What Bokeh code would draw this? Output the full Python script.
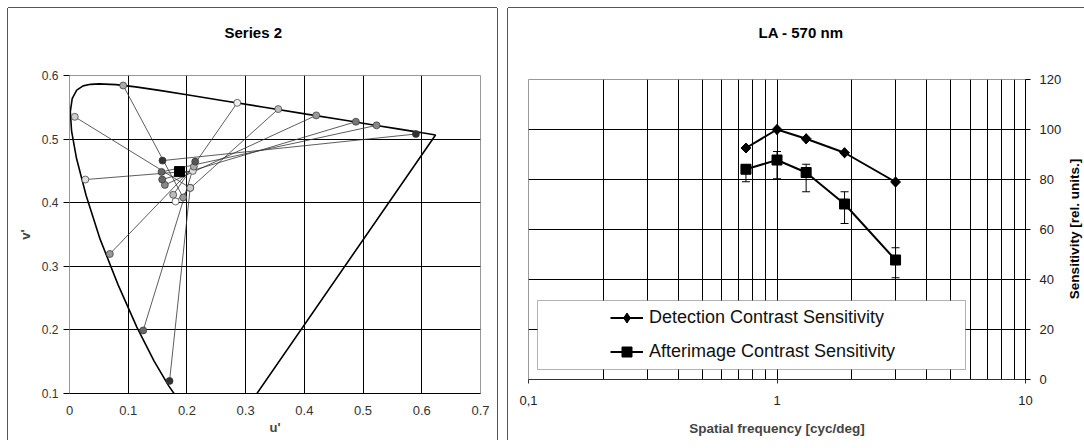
import math
from bokeh.plotting import figure
from bokeh.layouts import row
from bokeh.models import (FixedTicker, Title, Legend, LegendItem, BoxAnnotation,
                          Whisker, TeeHead, ColumnDataSource)
from bokeh.embed import file_html
from bokeh.resources import INLINE

FONT = "Liberation Sans"

# ---------------- Left chart: CIE 1976 u'v' diagram ----------------
locus_u = [0.2568, 0.2557, 0.2522, 0.2347, 0.2161, 0.1877, 0.1690, 0.1441, 0.1147,
           0.0828, 0.0521, 0.0282, 0.0119, 0.0035, 0.0014, 0.0046, 0.0123, 0.0231,
           0.0360, 0.0501, 0.0792, 0.1127, 0.1531, 0.2026, 0.2623, 0.3315, 0.4035,
           0.4692, 0.5203, 0.5565, 0.5830, 0.6005, 0.6109, 0.6234, 0.2568]
locus_v = [0.0166, 0.0159, 0.0169, 0.0350, 0.0549, 0.0871, 0.1120, 0.1510, 0.2044,
           0.2708, 0.3427, 0.4117, 0.4698, 0.5131, 0.5432, 0.5638, 0.5770, 0.5837,
           0.5861, 0.5868, 0.5856, 0.5821, 0.5766, 0.5694, 0.5604, 0.5501, 0.5393,
           0.5296, 0.5219, 0.5165, 0.5125, 0.5099, 0.5084, 0.5065, 0.0166]

spec_u = [0.0914, 0.009, 0.027, 0.0687, 0.1255, 0.1704, 0.2857, 0.3555, 0.4202, 0.4877, 0.523, 0.590]
spec_v = [0.5843, 0.535, 0.4364, 0.3194, 0.1992, 0.1198, 0.557, 0.5472, 0.5373, 0.5273, 0.5216, 0.508]
spec_fill = ["#aaaaaa", "#cccccc", "#e0e0e0", "#999999", "#666666", "#333333",
             "#eeeeee", "#bbbbbb", "#999999", "#777777", "#888888", "#333333"]

match_u = [0.1936, 0.2056, 0.2101, 0.2118, 0.2141, 0.2056, 0.1766, 0.1806, 0.1624, 0.1579, 0.1567, 0.1584]
match_v = [0.4082, 0.4233, 0.4500, 0.4568, 0.4646, 0.4233, 0.4124, 0.4019, 0.4280, 0.4364, 0.4484, 0.4662]
match_fill = ["#999999", "#cccccc", "#dddddd", "#aaaaaa", "#555555", "#cccccc",
              "#bbbbbb", "#ffffff", "#888888", "#666666", "#666666", "#333333"]

white_u = [0.1874]
white_v = [0.4489]

u_ticks = [0, 0.1, 0.2, 0.3, 0.4, 0.5, 0.6, 0.7]
v_ticks = [0.1, 0.2, 0.3, 0.4, 0.5, 0.6]

# ---------------- Right chart: LA - 570 nm ----------------
freq = [0.75, 1.0, 1.31, 1.87, 3.0]
detection = [92.6, 100.0, 96.3, 90.7, 79.0]
afterimage = [84.1, 87.8, 82.8, 70.2, 47.8]
after_upper = [85.8, 91.2, 86.1, 75.1, 52.7]
after_lower = [79.1, 80.3, 75.1, 62.4, 40.7]

x_major = [0.1, 1, 10]
x_labels = {0.1: "0,1", 1: "1", 10: "10"}
x_grid = [0.2, 0.3, 0.4, 0.5, 0.6, 0.7, 0.8, 0.9, 1, 2, 3, 4, 5, 6, 7, 8, 9]
y_ticks = [0, 20, 40, 60, 80, 100, 120]


def add_title(p, text, offset, gap):
    spacer = Title(text=" ", text_font_size="1px", standoff=gap)
    p.add_layout(spacer, "above")
    t = Title(text=text, align="left", offset=offset, standoff=30, vertical_align="top",
              text_font=FONT, text_font_size="15px", text_font_style="bold", text_color="black")
    p.add_layout(t, "above")


# ================= Left figure =================
p1 = figure(width=489, height=432, x_range=(0, 0.7), y_range=(0.1, 0.6),
            output_backend="svg", toolbar_location=None,
            min_border_left=61, min_border_right=17, min_border_top=66, min_border_bottom=47)
p1.frame_align = False
p1.outline_line_color = "#999999"
p1.styles = {"box-shadow": "-1px 0 0 #555555, 1px 0 0 #555555, 0 -1px 0 #555555"}

p1.xaxis.ticker = FixedTicker(ticks=u_ticks, minor_ticks=[])
p1.yaxis.ticker = FixedTicker(ticks=v_ticks, minor_ticks=[])
p1.xgrid.ticker = FixedTicker(ticks=u_ticks)
p1.ygrid.ticker = FixedTicker(ticks=v_ticks)
for g in (p1.xgrid, p1.ygrid):
    g.grid_line_color = "black"
    g.grid_line_width = 1

xa = p1.xaxis[0]
xa.major_tick_out = 0
xa.major_tick_in = 0
xa.minor_tick_out = 0
xa.axis_line_color = "black"
xa.major_label_text_font = FONT
xa.major_label_text_font_size = "13px"
xa.major_label_text_color = "#333333"
xa.major_label_standoff = 12
xa.axis_label = "u'"
xa.axis_label_text_font = FONT
xa.axis_label_text_font_size = "13px"
xa.axis_label_text_font_style = "bold"
xa.axis_label_standoff = 2

ya = p1.yaxis[0]
ya.major_tick_out = 6
ya.major_tick_in = 0
ya.minor_tick_out = 0
ya.major_tick_line_color = "black"
ya.axis_line_color = "#999999"
ya.major_label_text_font = FONT
ya.major_label_text_font_size = "12px"
ya.major_label_text_color = "#333333"
ya.major_label_standoff = 5
ya.axis_label = "v'"
ya.axis_label_text_font = FONT
ya.axis_label_text_font_size = "13px"
ya.axis_label_text_font_style = "bold"
ya.axis_label_standoff = 6

p1.segment(x0=spec_u, y0=spec_v, x1=match_u, y1=match_v, line_color="#333333", line_width=0.8)
p1.line(locus_u, locus_v, line_color="black", line_width=1.6)
p1.scatter(spec_u, spec_v, marker="circle", size=7, fill_color=spec_fill,
           line_color="#333333", line_width=0.7)
p1.scatter(match_u, match_v, marker="circle", size=7, fill_color=match_fill,
           line_color="#333333", line_width=0.7)
p1.scatter(white_u, white_v, marker="square", size=10, fill_color="black", line_color="black")

add_title(p1, "Series 2", 155, 15)

# ================= Right figure =================
p2 = figure(width=556, height=432, x_axis_type="log", x_range=(0.1, 10), y_range=(0, 120),
            y_axis_location="right", output_backend="svg", toolbar_location=None,
            min_border_left=20, min_border_right=37, min_border_top=70, min_border_bottom=61)
p2.frame_align = False
p2.outline_line_color = "#999999"
p2.styles = {"box-shadow": "-1px 0 0 #555555, 0 -1px 0 #555555"}

p2.xaxis.ticker = FixedTicker(ticks=x_major, minor_ticks=[])
p2.yaxis.ticker = FixedTicker(ticks=y_ticks, minor_ticks=[])
p2.xgrid.ticker = FixedTicker(ticks=x_grid)
p2.ygrid.ticker = FixedTicker(ticks=y_ticks)
for g in (p2.xgrid, p2.ygrid):
    g.grid_line_color = "black"
    g.grid_line_width = 1

xb = p2.xaxis[0]
xb.major_label_overrides = x_labels
xb.major_tick_out = 4
xb.major_tick_in = 0
xb.minor_tick_out = 0
xb.axis_line_color = "#333333"
xb.major_tick_line_color = "#333333"
xb.major_label_text_font = FONT
xb.major_label_text_font_size = "13px"
xb.major_label_text_color = "#222222"
xb.major_label_standoff = 12
xb.axis_label = "Spatial frequency [cyc/deg]"
xb.axis_label_text_font = FONT
xb.axis_label_text_font_size = "13.5px"
xb.axis_label_text_font_style = "bold"
xb.axis_label_standoff = 13

yb = p2.yaxis[0]
yb.major_tick_out = 5
yb.major_tick_in = 0
yb.minor_tick_out = 0
yb.axis_line_color = "black"
yb.major_tick_line_color = "black"
yb.major_label_text_font = FONT
yb.major_label_text_font_size = "13px"
yb.major_label_text_color = "#222222"
yb.major_label_standoff = 9

err_src = ColumnDataSource(dict(f=freq, up=after_upper, lo=after_lower))
p2.add_layout(Whisker(base="f", upper="up", lower="lo", source=err_src,
                      line_color="black", line_width=1,
                      upper_head=TeeHead(size=8, line_color="black", line_width=1),
                      lower_head=TeeHead(size=8, line_color="black", line_width=1)))

l1 = p2.line(freq, detection, line_color="black", line_width=2)
s1 = p2.scatter(freq, detection, marker="square", angle=math.pi / 4, size=7,
                fill_color="black", line_color="black")
# same points as a plain diamond, so that the legend key shows a diamond
k1 = p2.scatter(freq, detection, marker="diamond", size=10, fill_color="black", line_color="black")
l2 = p2.line(freq, afterimage, line_color="black", line_width=2)
s2 = p2.scatter(freq, afterimage, marker="square", size=10, fill_color="black", line_color="black")

p2.add_layout(BoxAnnotation(left=9, right=437, bottom=10, top=79,
                            left_units="screen", right_units="screen",
                            bottom_units="screen", top_units="screen",
                            fill_color="white", fill_alpha=1.0,
                            line_color="black", line_width=1))

legend = Legend(items=[LegendItem(label="Detection Contrast Sensitivity", renderers=[l1, k1]),
                       LegendItem(label="Afterimage Contrast Sensitivity", renderers=[l2, s2])],
                location=(82, 15), orientation="vertical", padding=0, margin=0, spacing=9,
                glyph_width=33, glyph_height=25, label_height=25, label_standoff=6,
                label_text_font=FONT, label_text_font_size="18px", label_text_color="#111111",
                border_line_alpha=0, background_fill_alpha=0)
p2.add_layout(legend)

add_title(p2, "LA - 570 nm", 230, 19)

# narrow strip carrying the rotated y-axis title (reads bottom to top)
p3 = figure(width=20, height=432, output_backend="svg", toolbar_location=None,
            x_axis_location=None, y_axis_location=None,
            min_border_left=0, min_border_right=0, min_border_top=70, min_border_bottom=61)
p3.frame_align = False
p3.outline_line_color = None
p3.xgrid.visible = False
p3.ygrid.visible = False
p3.styles = {"box-shadow": "0 -1px 0 #555555"}
p3.add_layout(Title(text="Sensitivity [rel. units.]", align="center", standoff=0,
                    text_font=FONT, text_font_size="13.5px", text_font_style="bold",
                    text_color="black"), "left")

layout = row(p1, row(p2, p3, spacing=0), spacing=11)
layout.margin = (8, 0, 0, 8)
open("out.html", "w").write(file_html(layout, INLINE))
